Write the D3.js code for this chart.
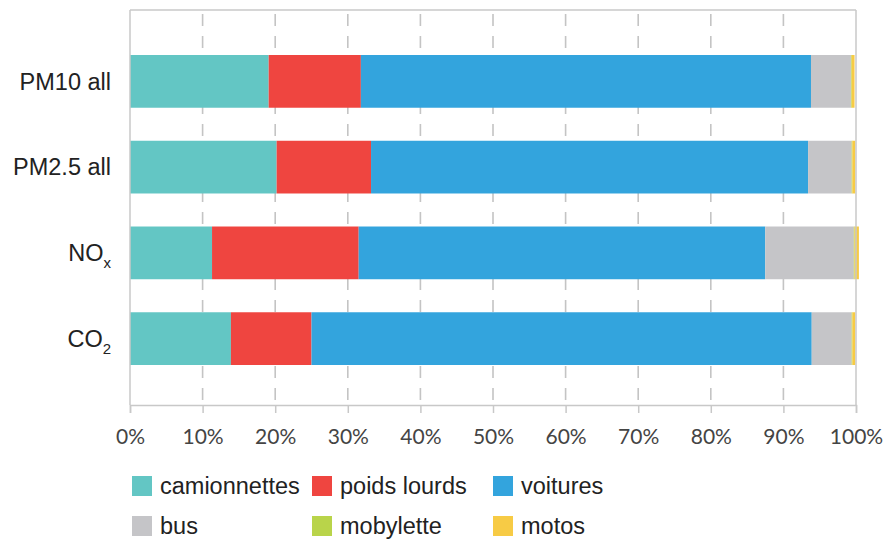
<!DOCTYPE html>
<html>
<head>
<meta charset="utf-8">
<script src="https://cdn.jsdelivr.net/npm/d3@7"></script>
<style>
  body { margin: 0; background: #fff; }
  .tick-label { font-family: Lato, "Open Sans", sans-serif; font-size: 21px; fill: #444; }
  .cat-label, .legend-label { font-family: "Liberation Sans", Arial, sans-serif; fill: #222; }
</style>
</head>
<body>
<script>
// categories (top to bottom) and display labels
const categories = ["PM10 all", "PM2.5 all", "NOx", "CO2"];
const labelMain = ["PM10 all", "PM2.5 all", "NO", "CO"];
const labelSub = ["", "", "x", "2"];

// series, shares in % per category
const seriesNames = ["camionnettes", "poids lourds", "voitures", "bus", "mobylette", "motos"];
const camionnettes = [19.1, 20.2, 11.3, 13.9];
const poidsLourds = [12.7, 13.0, 20.2, 11.1];
const voitures = [62.0, 60.2, 56.0, 68.9];
const bus = [5.5, 6.0, 12.2, 5.5];
const mobylette = [0.1, 0.1, 0.1, 0.1];
const motos = [0.4, 0.4, 0.6, 0.4];
const colors = ["#63c6c4", "#ef4540", "#33a4dd", "#c5c5c8", "#b9d44a", "#f7cb45"];

const xTicks = [0, 10, 20, 30, 40, 50, 60, 70, 80, 90, 100];

const W = 885, H = 541;
const margin = { top: 10, left: 130 };
const width = 726, height = 395;

const svg = d3.select("body").append("svg")
  .attr("width", W).attr("height", H);
const g = svg.append("g")
  .attr("transform", "translate(" + margin.left + "," + margin.top + ")");

const x = d3.scaleLinear().domain([0, 100]).range([0, width]);
const y = d3.scaleBand().domain(categories).range([45, 355]).paddingInner(0.385).paddingOuter(0);

// build table for stacking
const seriesValues = [camionnettes, poidsLourds, voitures, bus, mobylette, motos];
const table = categories.map((c, i) => {
  const row = { cat: c };
  seriesNames.forEach((s, j) => { row[s] = seriesValues[j][i]; });
  return row;
});
const stacked = d3.stack().keys(seriesNames)(table);

// dashed grid
g.selectAll(".grid").data(xTicks.slice(1, -1)).enter().append("line")
  .attr("x1", d => x(d)).attr("x2", d => x(d))
  .attr("y1", 4).attr("y2", height)
  .attr("stroke", "#c4c4c4").attr("stroke-width", 1.6)
  .attr("stroke-dasharray", "12,10");

// bars
g.selectAll(".layer").data(stacked).enter().append("g")
  .attr("fill", (d, i) => colors[i])
  .selectAll("rect").data(d => d).enter().append("rect")
  .attr("x", d => x(d[0]))
  .attr("width", d => x(d[1]) - x(d[0]))
  .attr("y", d => y(d.data.cat))
  .attr("height", y.bandwidth());

// frame: top, left, right
g.append("line").attr("x1", 0).attr("x2", width).attr("y1", 0).attr("y2", 0)
  .attr("stroke", "#c8c8c8").attr("stroke-width", 1.5);
g.append("line").attr("x1", 0).attr("x2", 0).attr("y1", 0).attr("y2", height)
  .attr("stroke", "#c8c8c8").attr("stroke-width", 1.5);
g.append("line").attr("x1", width).attr("x2", width).attr("y1", 0).attr("y2", height)
  .attr("stroke", "#c8c8c8").attr("stroke-width", 1.5);

// x axis
const xAxis = g.append("g")
  .attr("transform", "translate(0," + height + ")")
  .call(d3.axisBottom(x).tickValues(xTicks).tickSize(8).tickPadding(16).tickFormat(d => d + "%"));
xAxis.select(".domain").attr("stroke", "#c8c8c8").attr("stroke-width", 1.5);
xAxis.selectAll(".tick line").attr("stroke", "#c8c8c8").attr("stroke-width", 1.5);
xAxis.selectAll(".tick text").attr("class", "tick-label").attr("fill", null);

// category labels
const labels = g.selectAll(".cat-label").data(categories).enter().append("text")
  .attr("class", "cat-label")
  .attr("x", -19)
  .attr("y", d => y(d) + y.bandwidth() / 2)
  .attr("dy", "0.35em")
  .attr("text-anchor", "end")
  .attr("font-size", 23.5);
labels.append("tspan").text((d, i) => labelMain[i]);
labels.append("tspan")
  .attr("font-size", 15)
  .attr("dy", 7)
  .text((d, i) => labelSub[i]);

// legend
const legendCols = [0, 180, 361];
const legend = svg.append("g").attr("transform", "translate(132,476)");
const items = legend.selectAll("g").data(seriesNames).enter().append("g")
  .attr("transform", (d, i) => "translate(" + legendCols[i % 3] + "," + Math.floor(i / 3) * 40 + ")");
items.append("rect").attr("width", 20).attr("height", 20).attr("fill", (d, i) => colors[i]);
items.append("text").attr("class", "legend-label")
  .attr("x", 28).attr("y", 10).attr("dy", "0.35em")
  .attr("font-size", 23.5)
  .text(d => d);
</script>
</body>
</html>
